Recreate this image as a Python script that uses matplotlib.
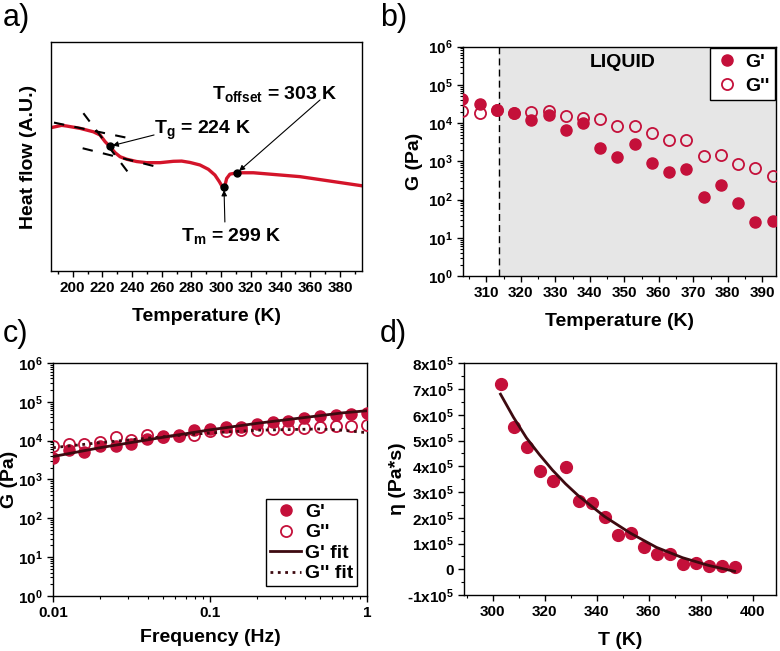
import matplotlib
matplotlib.use("Agg")
import matplotlib.pyplot as plt
import numpy as np
from matplotlib.ticker import MultipleLocator, FuncFormatter, LogLocator, NullFormatter

plt.rcParams['font.family'] = ['Liberation Sans', 'DejaVu Sans']
plt.rcParams['font.weight'] = 'bold'
plt.rcParams['axes.labelweight'] = 'bold'
plt.rcParams['mathtext.fontset'] = 'custom'
plt.rcParams['mathtext.rm'] = 'Liberation Sans:bold'
plt.rcParams['mathtext.bf'] = 'Liberation Sans:bold'
plt.rcParams['mathtext.it'] = 'Liberation Sans:bold'
plt.rcParams['mathtext.default'] = 'rm'
plt.rcParams['axes.linewidth'] = 1.0
plt.rcParams['xtick.direction'] = 'out'
plt.rcParams['ytick.direction'] = 'out'

RED = '#d4142a'
MARK = '#c4103a'
FIT = '#3d0a10'

# ---------------- data ----------------
# (a) DSC heat flow (arbitrary units)
dsc_T = [185.4, 192.6, 196.0, 204.9, 213.9, 218.4, 221.8, 225.1, 228.5, 231.9, 236.4,
         243.1, 249.8, 258.8, 267.8, 273.4, 279.0, 285.7, 291.4, 295.8, 298.8, 301.0,
         302.6, 303.7, 305.9, 310.9, 321.7, 353.1, 395.0]
dsc_hf = [0.626, 0.636, 0.633, 0.623, 0.608, 0.594, 0.565, 0.543, 0.517, 0.499, 0.488,
          0.478, 0.473, 0.473, 0.479, 0.480, 0.474, 0.463, 0.444, 0.419, 0.390, 0.365,
          0.375, 0.404, 0.423, 0.429, 0.429, 0.412, 0.372]
tan1_T = [187.4, 238.6]; tan1_hf = [0.648, 0.579]
tan2_T = [206.7, 256.6]; tan2_hf = [0.536, 0.455]
tan3_T = [207.2, 238.1]; tan3_hf = [0.689, 0.424]
pts_T = [225.1, 301.9, 310.7]
pts_hf = [0.545, 0.365, 0.429]

# (b) temperature sweep
tb = [303, 308, 313, 318, 323, 328, 333, 338, 343, 348, 353, 358, 363, 368, 373, 378, 383, 388, 393]
gp_b = [4.3e4, 3.2e4, 2.2e4, 1.8e4, 1.2e4, 1.6e4, 6.6e3, 1.0e4, 2.2e3, 1.3e3, 2.9e3,
        890, 540, 620, 120, 240, 80, 26, 28]
gpp_b = [2.1e4, 1.8e4, 2.2e4, 1.8e4, 2.0e4, 2.1e4, 1.55e4, 1.38e4, 1.29e4, 8.3e3, 8.3e3,
         5.6e3, 3.7e3, 3.6e3, 1.38e3, 1.45e3, 830, 680, 420]

# (c) frequency sweep
freq = [0.01, 0.0126, 0.0158, 0.02, 0.0251, 0.0316, 0.0398, 0.0501, 0.0631, 0.0794, 0.1,
        0.126, 0.158, 0.2, 0.251, 0.316, 0.398, 0.501, 0.631, 0.794, 1.0]
gp_c = [3.5e3, 5.9e3, 5.0e3, 7.1e3, 7.1e3, 8.3e3, 1.10e4, 1.29e4, 1.41e4, 1.9e4, 2.0e4,
        2.3e4, 2.2e4, 2.75e4, 2.95e4, 3.3e4, 3.8e4, 4.3e4, 4.5e4, 4.9e4, 5.1e4]
gpp_c = [7.1e3, 8.3e3, 8.3e3, 9.1e3, 1.23e4, 1.05e4, 1.41e4, 1.23e4, 1.35e4, 1.41e4, 1.74e4,
         1.74e4, 1.9e4, 1.9e4, 2.0e4, 2.05e4, 2.15e4, 2.25e4, 2.35e4, 2.45e4, 2.5e4]
fit_f = [0.01, 0.02, 0.05, 0.1, 0.2, 0.5, 0.7, 1.0]
gp_fit = [3.9e3, 6.6e3, 1.22e4, 1.9e4, 2.8e4, 4.4e4, 5.2e4, 5.9e4]
gpp_fit = [6.6e3, 8.9e3, 1.26e4, 1.58e4, 1.86e4, 2.0e4, 1.86e4, 1.6e4]

# (d) viscosity
td = [303, 308, 313, 318, 323, 328, 333, 338, 343, 348, 353, 358, 363, 368, 373, 378, 383, 388, 393]
eta = [7.2e5, 5.54e5, 4.73e5, 3.82e5, 3.44e5, 3.99e5, 2.65e5, 2.56e5, 2.04e5, 1.33e5, 1.40e5,
       0.85e5, 0.58e5, 0.58e5, 0.20e5, 0.23e5, 0.14e5, 0.13e5, 0.08e5]
fit_T = [303, 308, 313, 318, 323, 328, 333, 343, 353, 363, 373, 383, 393]
eta_fit = [6.8e5, 5.9e5, 5.1e5, 4.45e5, 3.85e5, 3.32e5, 2.85e5, 2.05e5, 1.4e5, 0.85e5, 0.45e5, 0.15e5, -0.08e5]

TICK = 11
LAB = 14

fig = plt.figure(figsize=(7.8, 6.51), dpi=100)

# ---------------- (a) ----------------
axa = fig.add_axes([0.0654, 0.5837, 0.3986, 0.3518])
axa.plot(dsc_T, dsc_hf, color=RED, lw=2.4, solid_capstyle='round')
for xs, ys in [(tan1_T, tan1_hf), (tan2_T, tan2_hf), (tan3_T, tan3_hf)]:
    axa.plot(xs, ys, color='black', lw=1.5, ls=(0, (5, 5)))
axa.plot(pts_T, pts_hf, 'o', color='black', ms=5)
axa.set_xlim(185.4, 394.8)
axa.set_ylim(0, 1)
axa.set_yticks([])
axa.set_xticks([200, 220, 240, 260, 280, 300, 320, 340, 360, 380])
axa.xaxis.set_minor_locator(MultipleLocator(10))
axa.tick_params(axis='x', labelsize=TICK, length=4, width=1)
axa.tick_params(axis='x', which='minor', length=2.5, width=1)
axa.set_xlabel('Temperature (K)', fontsize=LAB, labelpad=9)
axa.set_ylabel('Heat flow (A.U.)', fontsize=LAB, labelpad=10)
arrow = dict(arrowstyle='-|>', color='black', lw=0.8, mutation_scale=8, shrinkA=0, shrinkB=2)
axa.annotate('', xy=(225.1, 0.545), xytext=(254.8, 0.594), arrowprops=arrow)
axa.text(255.0, 0.615, r'T$_{\mathregular{g}}$ = 224 K', fontsize=LAB, va='center', ha='left')
axa.annotate('', xy=(310.7, 0.429), xytext=(366.6, 0.747), arrowprops=arrow)
axa.text(294.0, 0.775, r'T$_{\mathregular{offset}}$ = 303 K', fontsize=LAB, va='center', ha='left')
axa.annotate('', xy=(301.9, 0.365), xytext=(302.5, 0.214), arrowprops=arrow)
axa.text(307.0, 0.155, r'T$_{\mathregular{m}}$ = 299 K', fontsize=LAB, va='center', ha='center')

# ---------------- (b) ----------------
axb = fig.add_axes([0.5936, 0.576, 0.4014, 0.3523])
axb.axvspan(313.5, 400, color='#e6e6e6', zorder=0)
axb.axvline(313.5, color='black', lw=1.0, ls=(0, (5, 3)), zorder=1)
axb.plot(tb, gp_b, 'o', color=MARK, ms=8, mec=MARK, zorder=3, label="G'")
axb.plot(tb, gpp_b, 'o', mfc='none', mec=MARK, mew=1.3, ms=8, zorder=3, label="G''")
axb.set_yscale('log')
axb.set_ylim(1, 1e6)
axb.set_xlim(303.2, 394)
axb.xaxis.set_major_locator(MultipleLocator(10))
axb.xaxis.set_minor_locator(MultipleLocator(5))
axb.yaxis.set_major_locator(LogLocator(base=10, numticks=10))
axb.yaxis.set_minor_locator(LogLocator(base=10, subs=np.arange(2, 10), numticks=20))
axb.yaxis.set_minor_formatter(NullFormatter())
axb.tick_params(labelsize=TICK, length=4, width=1)
axb.tick_params(which='minor', length=2, width=0.8)
axb.set_xlabel('Temperature (K)', fontsize=LAB, labelpad=9)
axb.set_ylabel('G (Pa)', fontsize=LAB, labelpad=3)
axb.text(349.4, 3.8e5, 'LIQUID', fontsize=LAB, ha='center', va='center')
legb = axb.legend(loc='upper right', fontsize=LAB, frameon=True, fancybox=False,
                  edgecolor='black', framealpha=1, borderaxespad=0.05, handletextpad=0.3,
                  borderpad=0.3, labelspacing=0.3, handlelength=1.2)
legb.get_frame().set_linewidth(1.0)

# ---------------- (c) ----------------
axc = fig.add_axes([0.068, 0.0845, 0.4025, 0.3579])
axc.plot(freq, gp_c, 'o', color=MARK, ms=8, mec=MARK, zorder=3, label="G'")
axc.plot(freq, gpp_c, 'o', mfc='none', mec=MARK, mew=1.3, ms=8, zorder=3, label="G''")
axc.plot(fit_f, gp_fit, '-', color=FIT, lw=2.0, zorder=4, label="G' fit")
axc.plot(fit_f, gpp_fit, ':', color=FIT, lw=2.0, zorder=4, label="G'' fit")
axc.set_xscale('log')
axc.set_yscale('log')
axc.set_xlim(0.01, 1)
axc.set_ylim(1, 1e6)
axc.set_xticks([0.01, 0.1, 1])
axc.set_xticklabels(['0.01', '0.1', '1'])
axc.xaxis.set_minor_formatter(NullFormatter())
axc.yaxis.set_major_locator(LogLocator(base=10, numticks=10))
axc.yaxis.set_minor_locator(LogLocator(base=10, subs=np.arange(2, 10), numticks=20))
axc.yaxis.set_minor_formatter(NullFormatter())
axc.tick_params(labelsize=TICK, length=4, width=1)
axc.tick_params(which='minor', length=2, width=0.8)
axc.set_xlabel('Frequency (Hz)', fontsize=LAB, labelpad=6)
axc.set_ylabel('G (Pa)', fontsize=LAB, labelpad=0)
legc = axc.legend(loc='lower right', fontsize=LAB, frameon=True, fancybox=False,
                  edgecolor='black', framealpha=1, borderaxespad=0.5, handletextpad=0.2,
                  borderpad=0.2, labelspacing=0.15, handlelength=1.6)
legc.get_frame().set_linewidth(1.0)

# ---------------- (d) ----------------
axd = fig.add_axes([0.595, 0.086, 0.400, 0.356])
axd.plot(td, eta, 'o', color=MARK, ms=8.5, mec=MARK, zorder=3)
axd.plot(fit_T, eta_fit, '-', color=FIT, lw=2.0, zorder=4)
axd.set_xlim(289, 409)
axd.set_ylim(-1e5, 8e5)
axd.xaxis.set_major_locator(MultipleLocator(20))
axd.xaxis.set_minor_locator(MultipleLocator(10))
axd.yaxis.set_major_locator(MultipleLocator(1e5))
axd.yaxis.set_minor_locator(MultipleLocator(0.5e5))

def efmt(v, pos):
    n = int(round(v / 1e5))
    if n == 0:
        return '0'
    return f'{n}x10$^{{5}}$'

axd.yaxis.set_major_formatter(FuncFormatter(efmt))
axd.tick_params(labelsize=TICK, length=4, width=1)
axd.tick_params(which='minor', length=2, width=0.8)
axd.set_xlabel('T (K)', fontsize=LAB, labelpad=9)
axd.set_ylabel('η (Pa*s)', fontsize=LAB, labelpad=1)

# panel letters
for lab, x, y in [('a)', 0.003, 0.995), ('b)', 0.487, 0.995), ('c)', 0.003, 0.51), ('d)', 0.487, 0.51)]:
    fig.text(x, y, lab, fontsize=22, fontweight='normal', va='top', ha='left')

fig.savefig('out.png', dpi=100)
